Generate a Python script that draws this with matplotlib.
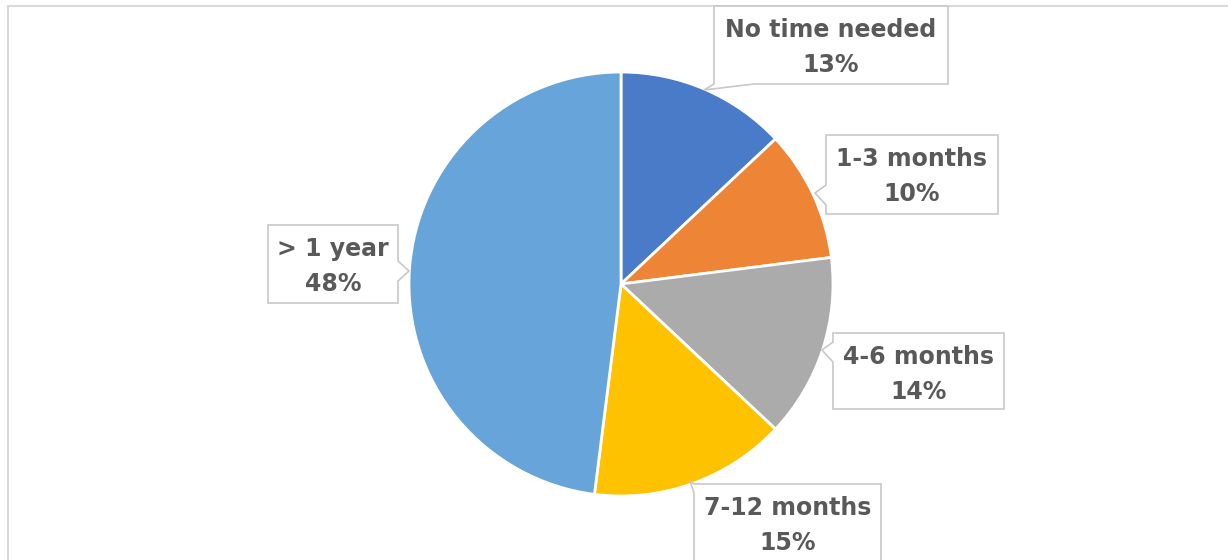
import numpy as np
import matplotlib.pyplot as plt
from matplotlib.patches import Polygon, Rectangle

labels = ["No time needed", "1-3 months", "4-6 months", "7-12 months", "> 1 year"]
values = [13, 10, 14, 15, 48]
colors = ["#4A7BC8", "#EE8536", "#ABABAB", "#FFC200", "#66A4DA"]

W, H = 1228, 560

# pie centre / radius in pixel units (y measured from bottom)
cx, cy, r = 621, H - 284, 212

# callout boxes: (left, top, right, bottom) in pixels from top-left, tip point, edge holding the notch
boxes = [
    ((714, 6, 948, 84), (704, 90), "bottom"),
    ((826, 135, 998, 214), (815, 193), "left"),
    ((833, 333, 1004, 409), (822, 350), "left"),
    ((694, 484, 881, 580), (690, 481), "left"),
    ((268, 225, 398, 303), (409, 271), "right"),
]

TXT = "#595959"
EDGE = "#C8C8C8"


def callout(ax, box, tip, side):
    x0, y0, x1, y1 = box
    tx, ty = tip
    # flip to y-up
    Y0, Y1, TY = H - y0, H - y1, H - ty
    if side == "left":
        a, b = H - (ty - 8), H - (ty + 12)
        a, b = min(a, Y0), max(b, Y1)
        pts = [(x0, Y0), (x1, Y0), (x1, Y1), (x0, Y1), (x0, b), (tx, TY), (x0, a)]
    elif side == "right":
        a, b = H - (ty - 10), H - (ty + 10)
        pts = [(x0, Y0), (x1, Y0), (x1, a), (tx, TY), (x1, b), (x1, Y1), (x0, Y1)]
    else:
        pts = [(x0, Y0), (x1, Y0), (x1, Y1), (x0 + 40, Y1), (tx, TY), (x0, Y1)]
    ax.add_patch(Polygon(pts, closed=True, facecolor="white", edgecolor=EDGE,
                         lw=1.2, zorder=3))


fig = plt.figure(figsize=(W / 100, H / 100), dpi=100)
ax = fig.add_axes([0, 0, 1, 1])

# chart frame
ax.add_patch(Rectangle((8, -20), W + 20, H - 6 + 20, facecolor="none",
                       edgecolor="#D9D9D9", lw=1.5))

ax.pie(values, colors=colors, startangle=90, counterclock=False,
       center=(cx, cy), radius=r, frame=True,
       wedgeprops=dict(edgecolor="white", linewidth=2))
ax.set_xlim(0, W)
ax.set_ylim(0, H)
ax.axis("off")

for lab, v, (box, tip, side) in zip(labels, values, boxes):
    callout(ax, box, tip, side)
    x0, y0, x1, y1 = box
    xc = (x0 + x1) / 2
    ax.text(xc, H - (y0 + 24), lab, ha="center", va="center", fontsize=17,
            fontweight="bold", color=TXT, family="DejaVu Sans", zorder=4)
    ax.text(xc, H - (y0 + 59), f"{v}%", ha="center", va="center", fontsize=17,
            fontweight="bold", color=TXT, family="DejaVu Sans", zorder=4)

plt.savefig("out.png", dpi=100)
plt.close()
